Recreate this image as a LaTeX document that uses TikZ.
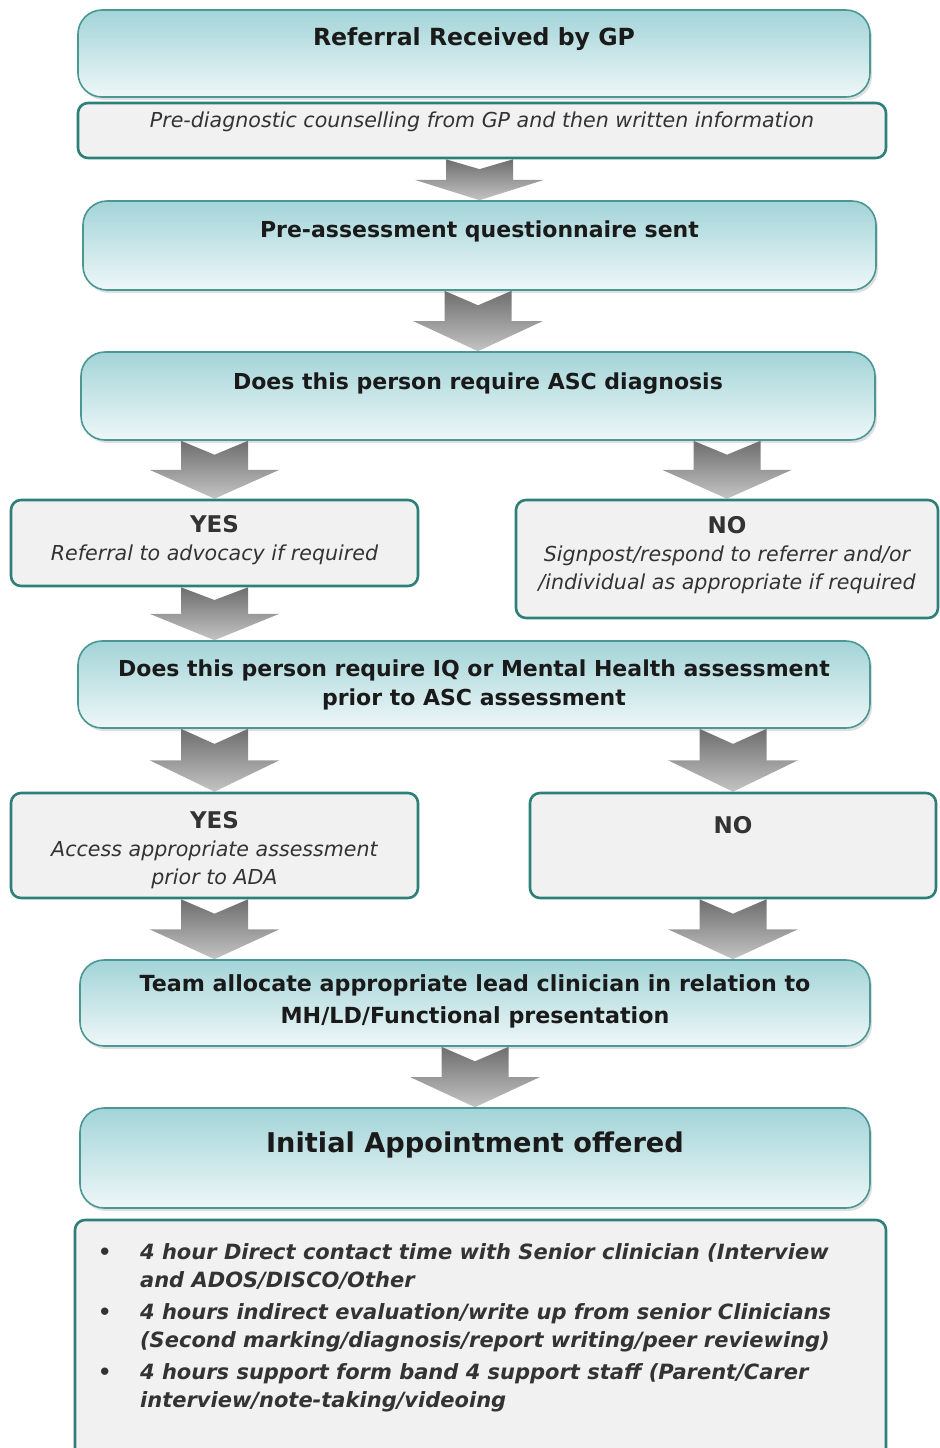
\documentclass[tikz,border=0pt]{standalone}
\usepackage{fontspec}
\setmainfont{DejaVu Sans}
\usepackage{tikz}
\usetikzlibrary{calc}
\usetikzlibrary{shadows,backgrounds}
\definecolor{tealtop}{HTML}{A3D4D8}
\definecolor{tealbot}{HTML}{EEF7F8}
\definecolor{titleedge}{HTML}{4A9793}
\definecolor{noteedge}{HTML}{2E7F7A}
\definecolor{notefill}{HTML}{F1F1F1}
\definecolor{arrowtop}{HTML}{6E6E6E}
\definecolor{arrowbot}{HTML}{C4C4C4}
\definecolor{inktext}{HTML}{1A1A1A}
\definecolor{notetext}{HTML}{333333}
\tikzset{%Global config
	>=latex,
	%Styles
	TitleBox/.style={
		draw=titleedge,
		line width=0.8pt,
		rounded corners=12pt,
		top color=tealtop,
		bottom color=tealbot,
		drop shadow={shadow xshift=1pt, shadow yshift=-1.5pt, opacity=0.25},
		inner sep=0pt,
	},
	NoteBox/.style={
		draw=noteedge,
		line width=1.3pt,
		rounded corners=5pt,
		fill=notefill,
		inner sep=0pt,
	},
	TitleText/.style={
		anchor=north,
		inner sep=0pt,
		align=center,
		text=inktext,
		font=\bfseries\fontsize{11}{14.5}\selectfont,
	},
	NoteText/.style={
		anchor=north,
		inner sep=0pt,
		align=center,
		text=notetext,
		font=\itshape\fontsize{10.3}{14}\selectfont,
	},
	FlowArrow/.style={
		top color=arrowtop,
		bottom color=arrowbot,
	},
}
% chevron arrow from #1 (top) down to #2 (tip)
\newcommand{\downchevron}[2]{%
	\shade[FlowArrow] let \p1=(#1), \p2=(#2), \n1={\y1-\y2} in
		({\x1-16.75pt},\y1) -- (\x1,{\y1-0.24*\n1}) -- ({\x1+16.75pt},\y1)
		-- ({\x1+16.75pt},{\y1-0.5*\n1}) -- ({\x1+32.5pt},{\y1-0.5*\n1})
		-- (\x1,\y2) -- ({\x1-32.5pt},{\y1-0.5*\n1})
		-- ({\x1-16.75pt},{\y1-0.5*\n1}) -- cycle;
}
\newcommand{\YesNo}[1]{{\upshape\bfseries\fontsize{11.5}{14}\selectfont #1}}
\begin{document}
\begin{tikzpicture}[x=0.5pt, y=-0.5pt]
		\useasboundingbox (0,0) rectangle (939,1448);
		% Main column
		\node[TitleBox, minimum width=396pt, minimum height=43.5pt,
			label={[TitleText, yshift=-9pt, font=\bfseries\fontsize{11.8}{14.5}\selectfont]north:Referral Received by GP}]
			(ref) at (474,53.5) {};
		\node[NoteBox, minimum width=404pt, minimum height=27.5pt,
			label={[NoteText, yshift=-5pt]north:Pre-diagnostic counselling from GP and then written information}]
			(pre) at (482,130.5) {};
		\node[TitleBox, minimum width=396.5pt, minimum height=44.5pt,
			label={[TitleText, yshift=-10pt]north:Pre-assessment questionnaire sent}]
			(quest) at (479.5,245.5) {};
		\node[TitleBox, minimum width=397pt, minimum height=44pt,
			label={[TitleText, yshift=-10.5pt]north:Does this person require ASC diagnosis}]
			(asc) at (478,396) {};
		
		% First decision
		\node[NoteBox, minimum width=203.5pt, minimum height=43pt,
			label={[NoteText, yshift=-8pt]north:\YesNo{YES}\\Referral to advocacy if required}]
			(yesA) at (214.5,543) {};
		\node[NoteBox, minimum width=211pt, minimum height=59pt,
			label={[NoteText, yshift=-8.6pt]north:\YesNo{NO}\\Signpost/respond to referrer and/or\\/individual as appropriate if required}]
			(noA) at (727,559) {};
		
		\node[TitleBox, minimum width=396pt, minimum height=43.5pt,
			label={[TitleText, yshift=-9.5pt]north:Does this person require IQ or Mental Health assessment\\prior to ASC assessment}]
			(iq) at (474,684.5) {};
		
		% Second decision
		\node[NoteBox, minimum width=203.5pt, minimum height=52.5pt,
			label={[NoteText, yshift=-9.6pt]north:\YesNo{YES}\\Access appropriate assessment\\prior to ADA}]
			(yesB) at (214.5,845.5) {};
		\node[NoteBox, minimum width=203pt, minimum height=52.5pt,
			label={[NoteText, yshift=-12pt]north:\YesNo{NO}}]
			(noB) at (733,845.5) {};
		
		\node[TitleBox, minimum width=395pt, minimum height=43pt,
			label={[TitleText, yshift=-7.5pt, font=\bfseries\fontsize{11.1}{16}\selectfont]north:Team allocate appropriate lead clinician in relation to\\MH/LD/Functional presentation}]
			(team) at (475,1003) {};
		\node[TitleBox, minimum width=395pt, minimum height=50pt,
			label={[TitleText, yshift=-12pt, font=\bfseries\fontsize{13.6}{16}\selectfont]north:Initial Appointment offered}]
			(initial) at (475,1158) {};
		\node[NoteBox, minimum width=405.5pt, minimum height=120pt,
			label={[NoteText, anchor=north west, align=left, xshift=12pt, yshift=-10.5pt, font=\bfseries\itshape\fontsize{10.5}{14}\selectfont]north west:%
				\begin{tabular}{@{}p{21pt}@{}l@{}}
					\textbullet & 4 hour Direct contact time with Senior clinician (Interview\\
					& and ADOS/DISCO/Other\\[2pt]
					\textbullet & 4 hours indirect evaluation/write up from senior Clinicians\\
					& (Second marking/diagnosis/report writing/peer reviewing)\\[2pt]
					\textbullet & 4 hours support form band 4 support staff (Parent/Carer\\
					& interview/note-taking/videoing
				\end{tabular}}]
			(tasks) at (480.5,1340) {};
		
		\begin{scope}[on background layer]
			\downchevron{quest.north |- pre.south}{quest.north}
			\downchevron{asc.north |- quest.south}{asc.north}
			\downchevron{yesA.north |- asc.south}{yesA.north}
			\downchevron{noA.north |- asc.south}{noA.north}
			\downchevron{yesA.south}{yesA.south |- iq.north}
			\downchevron{yesB.north |- iq.south}{yesB.north}
			\downchevron{noB.north |- iq.south}{noB.north}
			\downchevron{yesB.south}{yesB.south |- team.north}
			\downchevron{noB.south}{noB.south |- team.north}
			\downchevron{initial.north |- team.south}{initial.north}
		\end{scope}
	\end{tikzpicture}
\end{document}
